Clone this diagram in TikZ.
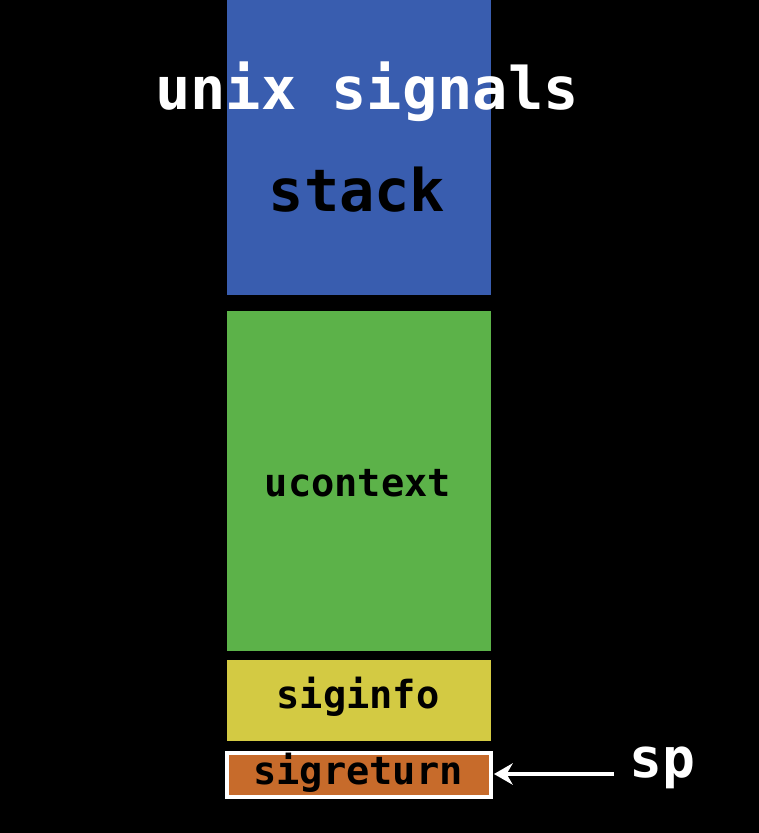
\documentclass[tikz,border=0pt]{standalone}
\usepackage{fontspec}
\usetikzlibrary{arrows.meta}
\setmonofont{DejaVu Sans Mono}
\begin{document}
\begin{tikzpicture}[x=0.75pt,y=-0.75pt,
  lbl/.style={font=\ttfamily\bfseries\fontsize{29}{29}\selectfont,text=black}]
\fill[black] (0,0) rectangle (759,833);
\useasboundingbox (0,0) rectangle (759,833);
\fill[fill={rgb,255:red,57;green,93;blue,175}] (227,0) rectangle (491,295);
\node[lbl,font=\ttfamily\bfseries\fontsize{44}{44}\selectfont] (stack) at (357,190) {stack};
\fill[fill={rgb,255:red,92;green,178;blue,73}] (227,311) rectangle (491,651);
\node[lbl] (uc) at (358,483) {ucontext};
\fill[fill={rgb,255:red,211;green,202;blue,67}] (227,660) rectangle (491,741);
\node[lbl] (si) at (358,697) {siginfo};
\draw[white,line width=2.5pt,fill={rgb,255:red,199;green,107;blue,43}] (227,753) rectangle (491,797);
\coordinate (sr) at (494,774);
\node[lbl] (srl) at (358,773) {sigreturn};
\node[font=\ttfamily\bfseries\fontsize{44}{44}\selectfont,text=white] (title) at (367,92) {unix signals};
\node[font=\ttfamily\bfseries\fontsize{41}{41}\selectfont,text=white,anchor=west] (sp) at (625,768) {sp};
\coordinate (a) at (614,774);
\draw[white,line width=3pt,-{Stealth[length=14pt,width=16pt]}] (a) -- (sr);
\end{tikzpicture}
\end{document}
